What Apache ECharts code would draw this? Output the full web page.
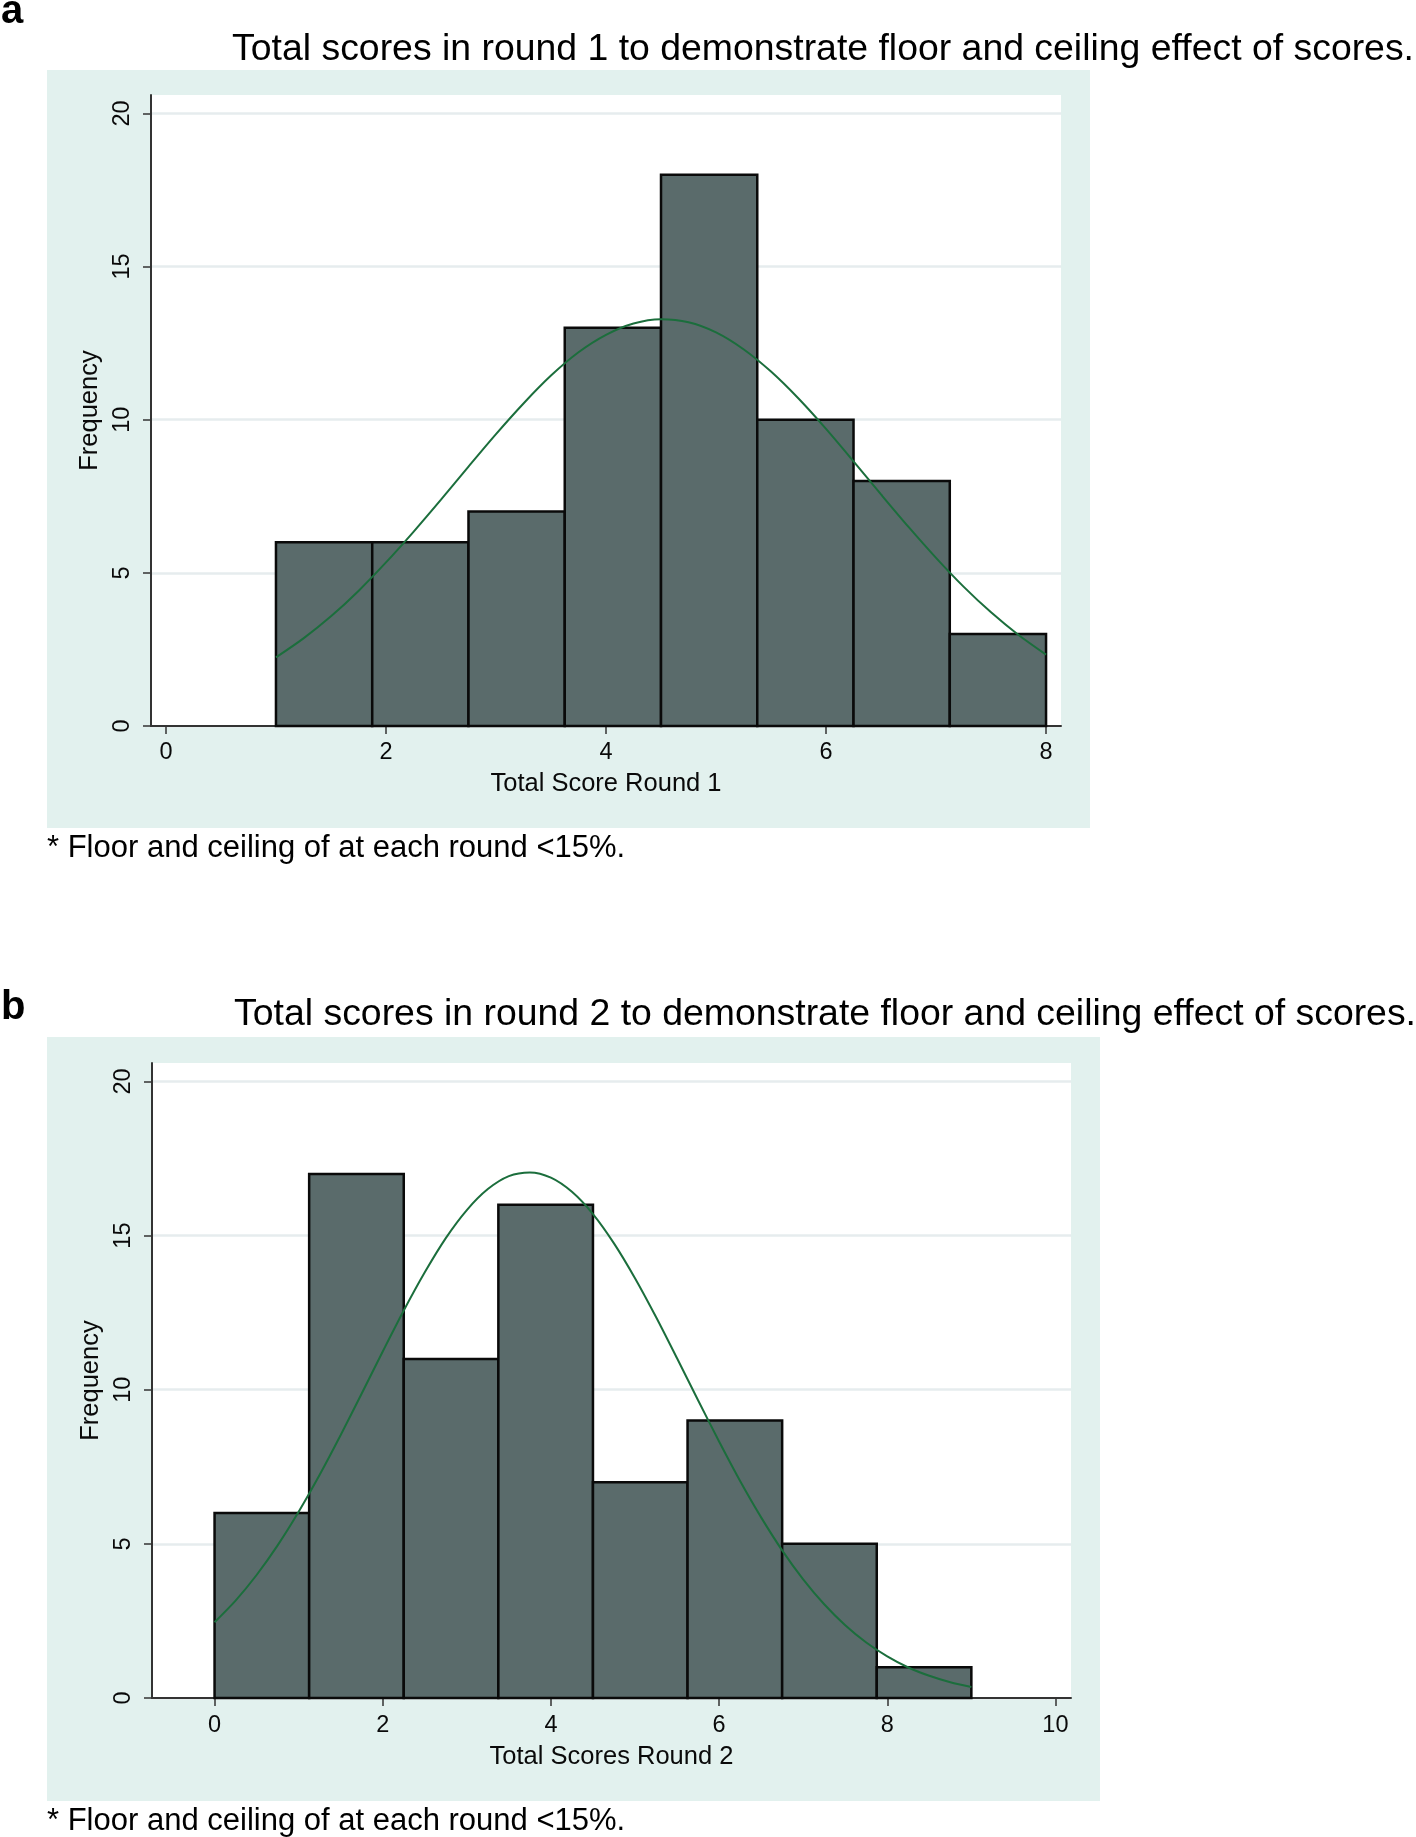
<!DOCTYPE html>
<html>
<head>
<meta charset="utf-8">
<script src="https://cdn.jsdelivr.net/npm/echarts@6/dist/echarts.min.js"></script>
<style>
html,body{margin:0;padding:0;background:#ffffff;}
#chart{width:1416px;height:1837px;}
</style>
</head>
<body>
<div id="chart"></div>
<script>
// ---------- Data ----------
// Panel a: round 1 histogram
const binEdgesA = [1, 1.875, 2.75, 3.625, 4.5, 5.375, 6.25, 7.125, 8];
const freqA = [6, 6, 7, 13, 18, 10, 8, 3];
// Panel a: overlaid normal curve
const curveXA = [1, 1.25, 1.5, 1.75, 2, 2.25, 2.5, 2.75, 3, 3.25, 3.5, 3.75, 4, 4.25, 4.5,
                 4.75, 5, 5.25, 5.5, 5.75, 6, 6.25, 6.5, 6.75, 7, 7.25, 7.5, 7.75, 8];
const curveYA = [2.24, 2.86, 3.58, 4.41, 5.34, 6.34, 7.39, 8.47, 9.53, 10.53, 11.44, 12.20, 12.77, 13.14, 13.28,
                 13.18, 12.85, 12.30, 11.57, 10.69, 9.70, 8.64, 7.56, 6.50, 5.49, 4.55, 3.71, 2.97, 2.33];

// Panel b: round 2 histogram
const binEdgesB = [0, 1.125, 2.25, 3.375, 4.5, 5.625, 6.75, 7.875, 9];
const freqB = [6, 17, 11, 16, 7, 9, 5, 1];
// Panel b: overlaid normal curve
const curveXB = [0, 0.25, 0.5, 0.75, 1, 1.25, 1.5, 1.75, 2, 2.25, 2.5, 2.75, 3, 3.25, 3.5, 3.75, 4, 4.25, 4.5,
                 4.75, 5, 5.25, 5.5, 5.75, 6, 6.25, 6.5, 6.75, 7, 7.25, 7.5, 7.75, 8, 8.25, 8.5, 8.75, 9];
const curveYB = [2.46, 3.16, 3.99, 4.95, 6.04, 7.24, 8.53, 9.88, 11.24, 12.57, 13.81, 14.92, 15.83, 16.51, 16.93, 17.05, 16.88, 16.42, 15.70,
                 14.75, 13.62, 12.36, 11.02, 9.66, 8.32, 7.04, 5.86, 4.79, 3.85, 3.04, 2.36, 1.80, 1.35, 0.99, 0.72, 0.51, 0.36];

// Tick labels
const xTicksA = [0, 2, 4, 6, 8];
const xTicksB = [0, 2, 4, 6, 8, 10];
const yTicks = [0, 5, 10, 15, 20];

// Texts
const panelLabelA = 'a';
const panelLabelB = 'b';
const titleA = 'Total scores in round 1 to demonstrate floor and ceiling effect of scores.';
const titleB = 'Total scores in round 2 to demonstrate floor and ceiling effect of scores.';
const xNameA = 'Total Score Round 1';
const xNameB = 'Total Scores Round 2';
const yName = 'Frequency';
const footnote = '* Floor and ceiling of at each round <15%.';

// ---------- Styles ----------
const FONT = "'Liberation Sans', Arial, Helvetica, sans-serif";
const BAR_FILL = '#5a6b6b';
const BAR_EDGE = '#0a0a0a';
const CURVE = '#1b6e3c';
const PANEL_BG = '#e2f1ee';
const AXIS = '#333333';
const GRIDLINE = '#e6ecee';

function bins(edges, freq) {
  return freq.map((f, i) => [edges[i], edges[i + 1], f]);
}
function pairs(xs, ys) {
  return xs.map((x, i) => [x, ys[i]]);
}

function renderBar(params, api) {
  const x0 = api.value(0), x1 = api.value(1), y = api.value(2);
  const p0 = api.coord([x0, y]);
  const p1 = api.coord([x1, 0]);
  return {
    type: 'rect',
    shape: { x: p0[0], y: p0[1], width: p1[0] - p0[0], height: p1[1] - p0[1] },
    style: { fill: BAR_FILL, stroke: BAR_EDGE, lineWidth: 2.5 }
  };
}

function makeX(gridIndex, min, max, ticks, name, nameGap, margin) {
  return {
    gridIndex, type: 'value', min, max,
    name, nameLocation: 'middle', nameGap,
    nameTextStyle: { fontSize: 25.5, color: '#0a0a0a', fontFamily: FONT },
    axisLine: { show: true, onZero: false, lineStyle: { color: AXIS, width: 2 } },
    axisTick: { show: true, length: 8, lineStyle: { color: AXIS, width: 1.5 }, customValues: ticks },
    axisLabel: { fontSize: 23.5, color: '#0a0a0a', fontFamily: FONT, margin, customValues: ticks },
    splitLine: { show: false }
  };
}
function makeY(gridIndex) {
  return {
    gridIndex, type: 'value', min: 0, max: 20.6, interval: 5,
    name: yName, nameLocation: 'middle', nameRotate: 90, nameGap: 37,
    nameTextStyle: { fontSize: 25.5, color: '#0a0a0a', fontFamily: FONT },
    axisLine: { show: true, onZero: false, lineStyle: { color: AXIS, width: 2 } },
    axisTick: { show: true, length: 8, lineStyle: { color: AXIS, width: 1.5 }, customValues: yTicks },
    axisLabel: { rotate: 90, fontSize: 23.5, color: '#0a0a0a', fontFamily: FONT, margin: 16, customValues: yTicks },
    splitLine: { show: true, lineStyle: { color: GRIDLINE, width: 2.5 } }
  };
}

const chart = echarts.init(document.getElementById('chart'), null, { renderer: 'canvas' });

const option = {
  backgroundColor: '#ffffff',
  animation: false,
  textStyle: { fontFamily: FONT },
  grid: [
    { left: 151, top: 95, width: 910, height: 631, show: true, backgroundColor: '#ffffff', borderWidth: 0, containLabel: false, outerBoundsMode: 'none' },
    { left: 152, top: 1063, width: 919, height: 635, show: true, backgroundColor: '#ffffff', borderWidth: 0, containLabel: false, outerBoundsMode: 'none' }
  ],
  xAxis: [
    makeX(0, -0.136, 8.136, xTicksA, xNameA, 45, 15),
    makeX(1, -0.744, 10.185, xTicksB, xNameB, 46, 16)
  ],
  yAxis: [makeY(0), makeY(1)],
  series: [
    {
      type: 'custom', xAxisIndex: 0, yAxisIndex: 0, z: 2,
      renderItem: renderBar, encode: { x: [0, 1], y: 2 },
      data: bins(binEdgesA, freqA)
    },
    {
      type: 'line', xAxisIndex: 0, yAxisIndex: 0, z: 5,
      data: pairs(curveXA, curveYA), smooth: 0.3, showSymbol: false,
      lineStyle: { color: CURVE, width: 2 }
    },
    {
      type: 'custom', xAxisIndex: 1, yAxisIndex: 1, z: 2,
      renderItem: renderBar, encode: { x: [0, 1], y: 2 },
      data: bins(binEdgesB, freqB)
    },
    {
      type: 'line', xAxisIndex: 1, yAxisIndex: 1, z: 5,
      data: pairs(curveXB, curveYB), smooth: 0.3, showSymbol: false,
      lineStyle: { color: CURVE, width: 2 }
    }
  ],
  graphic: [
    { type: 'rect', z: -10, shape: { x: 47, y: 70, width: 1043, height: 758 }, style: { fill: PANEL_BG } },
    { type: 'rect', z: -10, shape: { x: 47, y: 1037, width: 1053, height: 764 }, style: { fill: PANEL_BG } },
    { type: 'text', x: 1, y: 12, style: { text: panelLabelA, font: 'bold 40px ' + FONT, fill: '#000', align: 'left', verticalAlign: 'middle' } },
    { type: 'text', x: 1, y: 1007.5, style: { text: panelLabelB, font: 'bold 40px ' + FONT, fill: '#000', align: 'left', verticalAlign: 'middle' } },
    { type: 'text', x: 1414, y: 50, style: { text: titleA, font: '37.4px ' + FONT, fill: '#000', align: 'right', verticalAlign: 'middle' } },
    { type: 'text', x: 1416, y: 1015, style: { text: titleB, font: '37.4px ' + FONT, fill: '#000', align: 'right', verticalAlign: 'middle' } },
    { type: 'text', x: 47, y: 848.5, style: { text: footnote, font: '31px ' + FONT, fill: '#000', align: 'left', verticalAlign: 'middle' } },
    { type: 'text', x: 47, y: 1821, style: { text: footnote, font: '31px ' + FONT, fill: '#000', align: 'left', verticalAlign: 'middle' } }
  ]
};
chart.setOption(option);
</script>
</body>
</html>
